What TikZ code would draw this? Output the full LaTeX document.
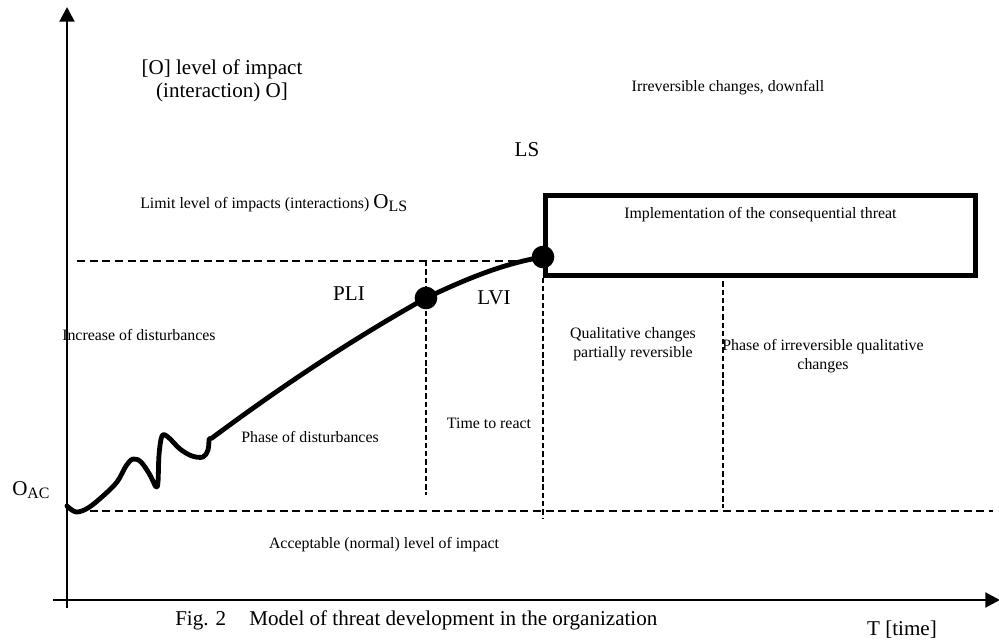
\documentclass[tikz,border=0pt]{standalone}
\usepackage{fontspec}
\setmainfont{Liberation Serif}
\usetikzlibrary{arrows.meta}
\begin{document}
\begin{tikzpicture}[x=0.75pt,y=-0.75pt,
  axis/.style={line width=2.2pt,-{Triangle[length=11pt,width=11pt]}},
  guide/.style={line width=1.1pt,dash pattern=on 6pt off 3.5pt},
  vguide/.style={line width=1.1pt,dash pattern=on 4pt off 2.2pt},
  trend/.style={line width=3.6pt,line cap=round,line join=round},
  pointdot/.style={circle,fill,inner sep=0pt,minimum size=17pt},
  small/.style={font=\fontsize{11.9pt}{14pt}\selectfont,inner sep=0pt,align=center},
  large/.style={font=\fontsize{15.8pt}{17.5pt}\selectfont,inner sep=0pt,align=center},
]
\useasboundingbox (0,0) rectangle (999,641);

% axes
\coordinate (ybot) at (67,608);
\coordinate (ytop) at (67,7);
\coordinate (xleft) at (53,600);
\coordinate (xright) at (1000,600);
\draw[axis] (ybot) -- (ytop);
\draw[axis] (xleft) -- (xright);

% key points and the threat box
\coordinate (pli) at (426,298);
\coordinate (ls) at (543,257);
\node (threat) [draw,line width=3.6pt,minimum width=322.5pt,minimum height=60pt,
  anchor=north west,inner sep=0pt] at (543,193) {};

% dashed guide lines
\coordinate (olsleft) at (77,261);
\coordinate (olsright) at (540,261);
\coordinate (pliend) at (426,495);
\coordinate (lsend) at (543,518);
\coordinate (irrtop) at (723,273);
\coordinate (irrend) at (723,508);
\coordinate (oacleft) at (77,511);
\coordinate (oacright) at (993,511);
\draw[guide] (olsleft) -- (olsright);
\draw[guide] (oacleft) -- (oacright);
\draw[vguide] (pli |- olsleft) -- (pliend);
\draw[vguide] (threat.south west) -- (lsend);
\draw[vguide] (irrtop) -- (irrend);

% development curve
\coordinate (hook) at (212,438);
\draw[trend] plot[smooth,tension=0.55] coordinates {
  (67,506) (76,512) (88,508) (103,496) (117,482) (126,466) (133,459)
  (141,462) (150,475) (156,487) (158,482) (159,455) (162,436) (168,437)
  (180,449) (192,456) (203,457) (208,450) (209,439)}
  -- (hook) .. controls (290,380) and (360,335) .. (pli)
  .. controls (460,282) and (500,264) .. (ls);
\node[pointdot] (plidot) at (pli) {};
\node[pointdot] (lsdot) at (ls) {};

% labels
\node[large] (ylabel) at (222,81) {[O] level of impact\\(interaction) O]};
\node[small] (irrev) at (728,88) {Irreversible changes, downfall};
\node[large] (lslabel) at (527,150) {LS};
\node[small,anchor=west] (limit) at (140,203)
  {Limit level of impacts (interactions) {\fontsize{15.8pt}{17pt}\selectfont O}\raisebox{-2.5pt}{LS}};
\node[small,anchor=north] (impl) at ([yshift=-10.5pt]threat.north) {Implementation of the consequential threat};
\node[large] (plilabel) at (349,294) {PLI};
\node[large] (lvilabel) at (494,298) {LVI};
\node[small,anchor=west] (incr) at (62,335) {Increase of disturbances};
\node[small] (phased) at (310,437) {Phase of disturbances};
\node[small] (react) at (489,423) {Time to react};
\node[small] (qual) at (633,344) {Qualitative changes\\partially reversible};
\node[small] (irrq) at (823,356) {Phase of irreversible qualitative\\changes};
\node[anchor=west,inner sep=0pt] (oac) at (12,490)
  {{\fontsize{15.8pt}{17pt}\selectfont O}\raisebox{-2.5pt}{\fontsize{11.9pt}{14pt}\selectfont AC}};
\node[small] (accept) at (384,545) {Acceptable (normal) level of impact};
\node[large,anchor=west] (caption) at (175,620) {Fig. 2\hspace{1.1em}Model of threat development in the organization};
\node[large] (tlabel) at (902,630) {T [time]};
\end{tikzpicture}
\end{document}
